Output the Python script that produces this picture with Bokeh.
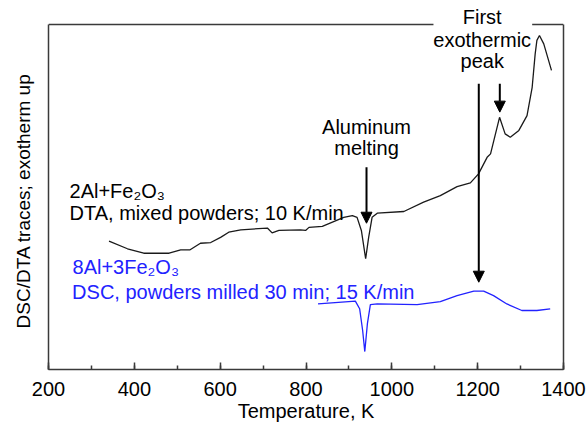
from bokeh.plotting import figure
from bokeh.models import Range1d, LinearAxis, FixedTicker, SingleIntervalTicker, Label, Arrow, NormalHead
from bokeh.embed import file_html
from bokeh.resources import INLINE

# DTA trace (2Al+Fe2O3, mixed powders, 10 K/min) - temperature (K) and signal (a.u.)
dta_T = [341, 384, 422, 481, 508, 530, 554, 578, 601, 620, 648, 710, 721, 737, 787,
         799, 807, 838, 888, 908, 919, 929, 939, 946, 954, 966, 1028, 1074, 1113,
         1152, 1183, 1202, 1222, 1230, 1251, 1264, 1276, 1296, 1315, 1327, 1334,
         1338, 1344, 1354, 1372]
dta_signal = [37.2, 35.0, 33.7, 33.7, 34.7, 34.7, 36.6, 36.8, 38.3, 39.8, 40.5, 41.0,
              39.6, 40.3, 40.5, 40.3, 41.2, 41.5, 44.1, 44.6, 44.1, 40.3, 32.1, 38.3,
              44.1, 45.3, 45.8, 48.5, 50.4, 53.0, 54.1, 56.7, 61.5, 62.5, 73.1, 68.3,
              67.3, 69.3, 73.6, 81.8, 91.5, 95.4, 96.8, 94.4, 86.7]

# DSC trace (8Al+3Fe2O3, milled 30 min, 15 K/min)
dsc_T = [828, 915, 925, 932, 937, 943, 950, 966, 1059, 1113, 1152, 1191, 1214, 1237,
         1268, 1303, 1338, 1369]
dsc_signal = [19.0, 19.8, 17.6, 11.3, 5.2, 13.2, 18.8, 19.0, 18.8, 19.7, 21.4, 22.7,
              22.7, 21.4, 19.0, 17.1, 17.1, 17.6]

x_ticks_interval = 200
x_label = "Temperature, K"
y_label = "DSC/DTA traces; exotherm up"

FONT = "Liberation Sans"
AX_COLOR = "#3a3a3a"
BLUE = "#2222ff"

X0, X1 = 200, 1400
Y0, Y1 = 0, 100
Y_TOP = 106.96  # headroom above the plot box for the "First exothermic peak" note

p = figure(width=587, height=428, output_backend="svg", toolbar_location=None,
           x_range=Range1d(X0, X1), y_range=Range1d(Y0, Y_TOP),
           x_axis_location=None, y_axis_location=None,
           min_border_left=48, min_border_right=24, min_border_top=0, min_border_bottom=59)
p.title.visible = False
p.grid.visible = False
p.outline_line_color = None
p.background_fill_color = "white"
p.border_fill_color = "white"

xax = LinearAxis(ticker=SingleIntervalTicker(interval=x_ticks_interval, num_minor_ticks=2),
                 axis_label=x_label)
xax.axis_line_color = AX_COLOR
xax.axis_line_width = 1.5
xax.major_tick_line_color = AX_COLOR
xax.minor_tick_line_color = AX_COLOR
xax.major_tick_line_width = 1.5
xax.minor_tick_line_width = 1.5
xax.major_tick_in = 7
xax.major_tick_out = 0
xax.minor_tick_in = 4
xax.minor_tick_out = 0
xax.major_label_text_font = FONT
xax.major_label_text_font_size = "20px"
xax.major_label_text_color = "black"
xax.major_label_standoff = 12
xax.axis_label_text_font = FONT
xax.axis_label_text_font_size = "20px"
xax.axis_label_text_font_style = "normal"
xax.axis_label_text_color = "black"
xax.axis_label_standoff = 1
p.add_layout(xax, "below")

# left edge; the title is padded at its end (non-breaking spaces) so that it sits
# centred on the plot box rather than on the taller frame
yax = LinearAxis(ticker=FixedTicker(ticks=[]), bounds=(Y0, Y1),
                 axis_label=y_label + "\u00a0" * 6)
yax.axis_line_color = AX_COLOR
yax.axis_line_width = 1.5
yax.major_tick_in = 0
yax.major_tick_out = 0
yax.minor_tick_in = 0
yax.minor_tick_out = 0
yax.major_label_text_font_size = "0px"
yax.axis_label_text_font = FONT
yax.axis_label_text_font_size = "19px"
yax.axis_label_text_font_style = "normal"
yax.axis_label_text_color = "black"
yax.axis_label_standoff = 15
p.add_layout(yax, "left")

rax = LinearAxis(ticker=FixedTicker(ticks=[]), bounds=(Y0, Y1))
rax.axis_line_color = AX_COLOR
rax.axis_line_width = 1.5
rax.major_tick_in = 0
rax.major_tick_out = 0
rax.minor_tick_in = 0
rax.minor_tick_out = 0
rax.major_label_text_font_size = "0px"
p.add_layout(rax, "right")

# top edge of the plot box, interrupted behind the "First exothermic peak" note
p.segment(x0=[X0, 1327], y0=[Y1, Y1], x1=[1097, X1], y1=[Y1, Y1],
          line_color=AX_COLOR, line_width=1.5)

p.line(dta_T, dta_signal, line_color="#1a1a1a", line_width=1.3)
p.line(dsc_T, dsc_signal, line_color=BLUE, line_width=1.3)

DY = 1.9  # baseline correction


def lab(x, y, text, color="black", align="left", **kw):
    l = Label(x=x, y=y + DY, text=text, text_font=FONT, text_font_size="20px",
              text_color=color, text_align=align, text_baseline="alphabetic", **kw)
    p.add_layout(l)
    return l


lab(249, 49.9, "2Al+Fe\u2082O\u2083")
lab(249, 43.6, "DTA, mixed powders; 10 K/min")
lab(256, 27.7, "8Al+3Fe\u2082O\u2083", color=BLUE)
lab(255, 20.5, "DSC, powders milled 30 min; 15 K/min", color=BLUE)
lab(941, 68.3, "Aluminum", align="center")
lab(941, 62.2, "melting", align="center")

lab(1210.6, 100.3, "First", align="center")
lab(1210.6, 93.6, "exothermic", align="center")
lab(1210.6, 87.4, "peak", align="center")


def arrow(x, y0, y1):
    p.add_layout(Arrow(x_start=x, y_start=y0, x_end=x, y_end=y1,
                       line_color="black", line_width=2,
                       end=NormalHead(size=11, fill_color="black", line_color="black")))


arrow(941, 58.6, 42.4)
arrow(1202.6, 82.8, 25.3)
arrow(1251.6, 82.8, 74.6)

open("out.html", "w").write(file_html(p, INLINE))
